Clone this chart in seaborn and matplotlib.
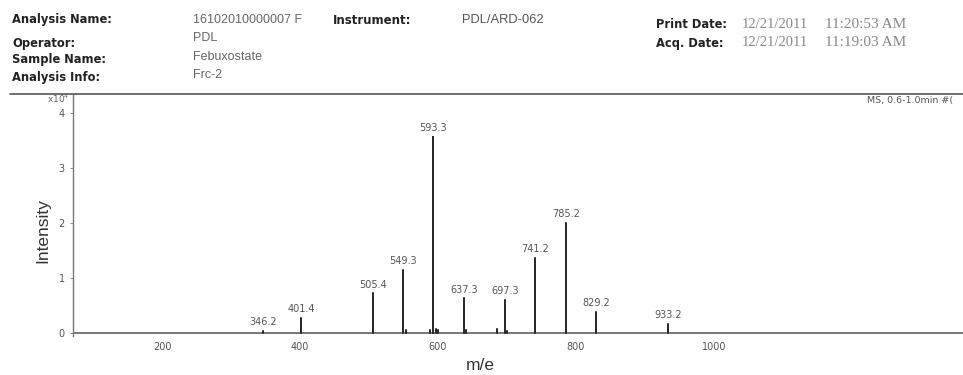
import numpy as np
import pandas as pd
import matplotlib
matplotlib.use("Agg")
import matplotlib.pyplot as plt
from matplotlib.lines import Line2D
import seaborn as sns

# ---- data ----
peak_mz = [346.2, 401.4, 505.4, 549.3, 593.3, 637.3, 697.3, 741.2, 785.2, 829.2, 933.2]
peak_int = [0.04, 0.27, 0.72, 1.15, 3.57, 0.63, 0.60, 1.36, 2.00, 0.38, 0.17]
peak_labels = ["346.2", "401.4", "505.4", "549.3", "593.3", "637.3", "697.3",
               "741.2", "785.2", "829.2", "933.2"]
minor_mz = [553.0, 589.0, 597.0, 600.5, 640.0, 685.0, 700.0]
minor_int = [0.05, 0.05, 0.08, 0.06, 0.06, 0.08, 0.04]
xticks = [200, 400, 600, 800, 1000]
yticks = [0, 1, 2, 3, 4]

header_left = [("Analysis Name:", "16102010000007 F"),
               ("Operator:", "PDL"),
               ("Sample Name:", "Febuxostate"),
               ("Analysis Info:", "Frc-2")]
instrument = ("Instrument:", "PDL/ARD-062")
dates = [("Print Date:", "12/21/2011", "11:20:53 AM"),
         ("Acq. Date:", "12/21/2011", "11:19:03 AM")]
scan_info = "MS, 0.6-1.0min #("

# ---- build stick spectrum table ----
all_mz = peak_mz + minor_mz
all_int = peak_int + minor_int
rows = []
for i, (m, h) in enumerate(zip(all_mz, all_int)):
    rows += [(i, m, 0.0), (i, m, h), (i, m, 0.0)]
df = pd.DataFrame(rows, columns=["pk", "mz", "I"])

sns.set_style("white")
plt.rcParams["font.family"] = ["DejaVu Sans"]

W, H = 963, 375
fig = plt.figure(figsize=(W / 100, H / 100), dpi=100)

def fx(px):
    return px / W

def fy(py):
    return 1 - py / H

ax = fig.add_axes([fx(73), fy(336), fx(963) - fx(73), fy(95) - fy(336)])

ax.axhline(0, color="#555555", linewidth=1.1, zorder=1)
for i in range(len(all_mz)):
    sub = df[df.pk == i]
    lw = 1.4 if all_int[i] > 3 else 1.1
    sns.lineplot(data=sub, x="mz", y="I", sort=False, estimator=None,
                 color="#2a2a2a", linewidth=lw, ax=ax, legend=False)

for m, h, lab in zip(peak_mz, peak_int, peak_labels):
    ax.text(m, h + 0.07, lab, ha="center", va="bottom", fontsize=7,
            color="#555555", family=["DejaVu Sans"])

ax.set_xlim(71, 1361)
ax.set_ylim(-0.055, 4.33)
ax.set_xticks(xticks)
ax.set_yticks(yticks)
ax.set_xticklabels([str(t) for t in xticks])
ax.set_yticklabels([str(t) for t in yticks])
ax.tick_params(axis="x", length=0, labelsize=7, labelcolor="#555555", pad=4)
ax.tick_params(axis="y", length=2, width=0.6, color="#777777", labelsize=7,
               labelcolor="#555555", pad=4, left=True)
for s in ["top", "right", "bottom"]:
    ax.spines[s].set_visible(False)
ax.spines["left"].set_color("#777777")
ax.spines["left"].set_linewidth(1.0)
ax.set_xlabel("")
ax.set_ylabel("")

fig.text(fx(43), fy(231), "Intensity", rotation=90, ha="center", va="center",
         fontsize=12.5, color="#333333", family=["Liberation Sans"])
fig.text(fx(480), fy(366), "m/e", ha="center", va="center",
         fontsize=12.5, color="#333333", family=["Liberation Sans"])
fig.text(fx(58), fy(99), r"x10$^4$", ha="center", va="center",
         fontsize=6.5, color="#666666")
fig.text(fx(867), fy(100), scan_info, ha="left", va="center",
         fontsize=6.8, color="#555555")

# separator line
fig.add_artist(Line2D([fx(10), fx(963)], [fy(94), fy(94)], color="#555555",
                      linewidth=1.2, transform=fig.transFigure))

# header
ys = [20, 43, 59, 77]
vys = [20, 38, 57, 75]
for (lab, val), y, vy in zip(header_left, ys, vys):
    fig.text(fx(12), fy(y), lab, ha="left", va="center", fontsize=8.3,
             fontweight="bold", color="#222222")
    fig.text(fx(193), fy(vy), val, ha="left", va="center",
             fontsize=9.0, color="#666666", family=["Liberation Sans"])
fig.text(fx(333), fy(20), instrument[0], ha="left", va="center", fontsize=8.5,
         fontweight="bold", color="#222222")
fig.text(fx(462), fy(20), instrument[1], ha="left", va="center", fontsize=9.3,
         color="#555555", family=["Liberation Sans"])
for (lab, d, t), y in zip(dates, [25, 43]):
    fig.text(fx(656), fy(y), lab, ha="left", va="center", fontsize=8.3,
             fontweight="bold", color="#222222")
    fig.text(fx(742), fy(y), d, ha="left", va="center", fontsize=10.5,
             color="#888888", family=["Liberation Serif"])
    fig.text(fx(825), fy(y), t, ha="left", va="center", fontsize=11,
             color="#888888", family=["Liberation Serif"])

fig.savefig("out.png", dpi=100, facecolor="white")
